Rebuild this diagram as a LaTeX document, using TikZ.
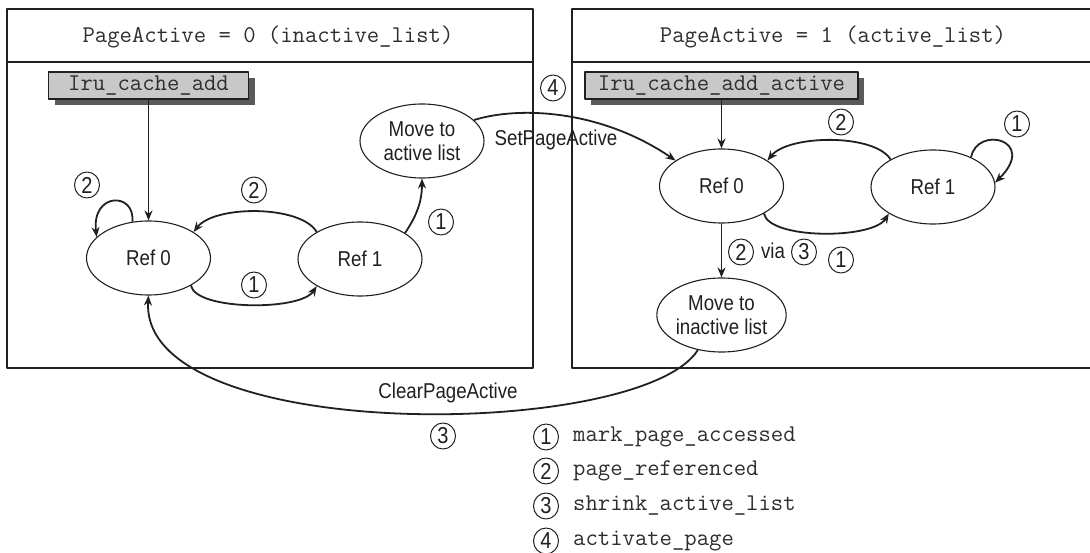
\documentclass[tikz,border=0pt]{standalone}
\usepackage{fontspec}
\newfontfamily\condf{Liberation Sans}[FakeStretch=0.87]
\usetikzlibrary{arrows.meta,shapes.geometric,shadows}
\definecolor{ink}{HTML}{231F20}
\definecolor{boxg}{HTML}{C8C8C8}
\definecolor{shad}{HTML}{5A5A5A}
\definecolor{monot}{HTML}{2E2E2E}
\begin{document}
\begin{tikzpicture}[x=1pt,y=-1pt,line join=round,
  frame/.style={draw=ink,line width=2pt},
  state/.style={ellipse,draw=ink,line width=1.1pt,minimum width=124pt,minimum height=74pt,inner sep=0pt,align=center,font=\condf\fontsize{21.5}{24}\selectfont,text=ink},
  fnbox/.style={draw=ink,line width=1.3pt,fill=boxg,minimum height=27pt,inner sep=0pt,font=\ttfamily\fontsize{24}{26}\selectfont,text=monot,drop shadow={shadow xshift=6pt,shadow yshift=-6pt,fill=shad,opacity=1}},
  hdr/.style={inner sep=0pt,font=\ttfamily\fontsize{24}{26}\selectfont,text=monot},
  num/.style={ellipse,draw=ink,line width=1pt,minimum width=25pt,minimum height=26pt,inner sep=0pt,font=\condf\fontsize{23}{23}\selectfont,text=ink},
  lbl/.style={inner sep=0pt,font=\condf\fontsize{21.5}{24}\selectfont,text=ink},
  arr/.style={draw=ink,line width=1.8pt,-{Stealth[length=10pt,width=8pt]}}]
\useasboundingbox (0,0) rectangle (1090,553);
\fill[white] (0,0) rectangle (1090,553);

% frames
\draw[frame] (7,9) rectangle (533,368);
\draw[frame] (7,62) -- (533,62);
\draw[frame] (1094,9) -- (572,9) -- (572,368) -- (1094,368);
\draw[frame] (572,62) -- (1094,62);

% headers
\node[hdr] (hdrL) at (268,37) {PageActive = 0 (inactive\_list)};
\node[hdr] (hdrR) at (833,37) {PageActive = 1 (active\_list)};

% function boxes
\node[fnbox,minimum width=200pt] (lruL) at (148.5,85.5) {Iru\_cache\_add};
\node[fnbox,minimum width=273pt] (lruR) at (721.5,85.5) {Iru\_cache\_add\_active};

% states left
\node[state] (ref0L) at (148.5,258) {Ref 0};
\node[state] (ref1L) at (360,259) {Ref 1};
\node[state] (moveA) at (422,141) {Move to\\active list};
% states right
\node[state] (ref0R) at (721.5,186) {Ref 0};
\node[state] (ref1R) at (933,187) {Ref 1};
\node[state] (moveI) at (721.5,315) {Move to\\inactive list};

% connectors left
\draw[arr] (lruL.south) -- (ref0L.north);
\draw[arr] (ref0L.114) .. controls +(3,-30) and +(-5,-45) .. (ref0L.158);
\draw[arr] (ref1L.148) .. controls +(-16,-27) and +(21,-27) .. (ref0L.30);
\draw[arr] (ref0L.-33) .. controls +(5,25) and +(-16,25) .. (ref1L.212);
\draw[arr] (ref1L.30) .. controls +(10,-15) and +(0,25) .. (moveA.south);
% SetPageActive
\draw[arr] (moveA.22) .. controls +(45,-14) and +(-75,-51) .. (ref0R.151);
% connectors right
\draw[arr] (lruR.south) -- (ref0R.north);
\draw[arr] (ref1R.147) .. controls +(-16,-26) and +(21,-26) .. (ref0R.29);
\draw[arr] (ref0R.-33) .. controls +(5,26) and +(-16,26) .. (ref1R.211);
\draw[arr] (ref1R.38) .. controls +(6,-32) and +(43,-43) .. (ref1R.4);
\draw[arr] (ref0R.south) -- (moveI.north);
% ClearPageActive
\draw[arr] (moveI.236) .. controls +(-57,90) and +(-9,150) .. (ref0L.south);

% labels left
\node[num] (nA) at (87,185) {2};
\node[num] (nB) at (254,190) {2};
\node[num] (nC) at (254,285) {1};
\node[num] (nD) at (441,222) {1};
% labels middle
\node[num] (nE) at (553,88) {4};
\node[lbl] (setpa) at (556,140) {SetPageActive};
\node[lbl] (clrpa) at (448,393) {ClearPageActive};
\node[num] (nF) at (443,436) {3};
% labels right
\node[num] (nG) at (841,122) {2};
\node[num] (nH) at (1017,124) {1};
\node[num] (nI) at (741,252) {2};
\node[lbl] (via) at (773,251) {via};
\node[num] (nJ) at (804,252) {3};
\node[num] (nK) at (841,260) {1};

% legend
\node[num] (k1) at (546,437) {1};
\node[num] (k2) at (546,471) {2};
\node[num] (k3) at (546,506) {3};
\node[num] (k4) at (546,541) {4};
\node[hdr,anchor=west] (t1) at (573,437) {mark\_page\_accessed};
\node[hdr,anchor=west] (t2) at (573,471) {page\_referenced};
\node[hdr,anchor=west] (t3) at (573,506) {shrink\_active\_list};
\node[hdr,anchor=west] (t4) at (573,541) {activate\_page};
\end{tikzpicture}
\end{document}
